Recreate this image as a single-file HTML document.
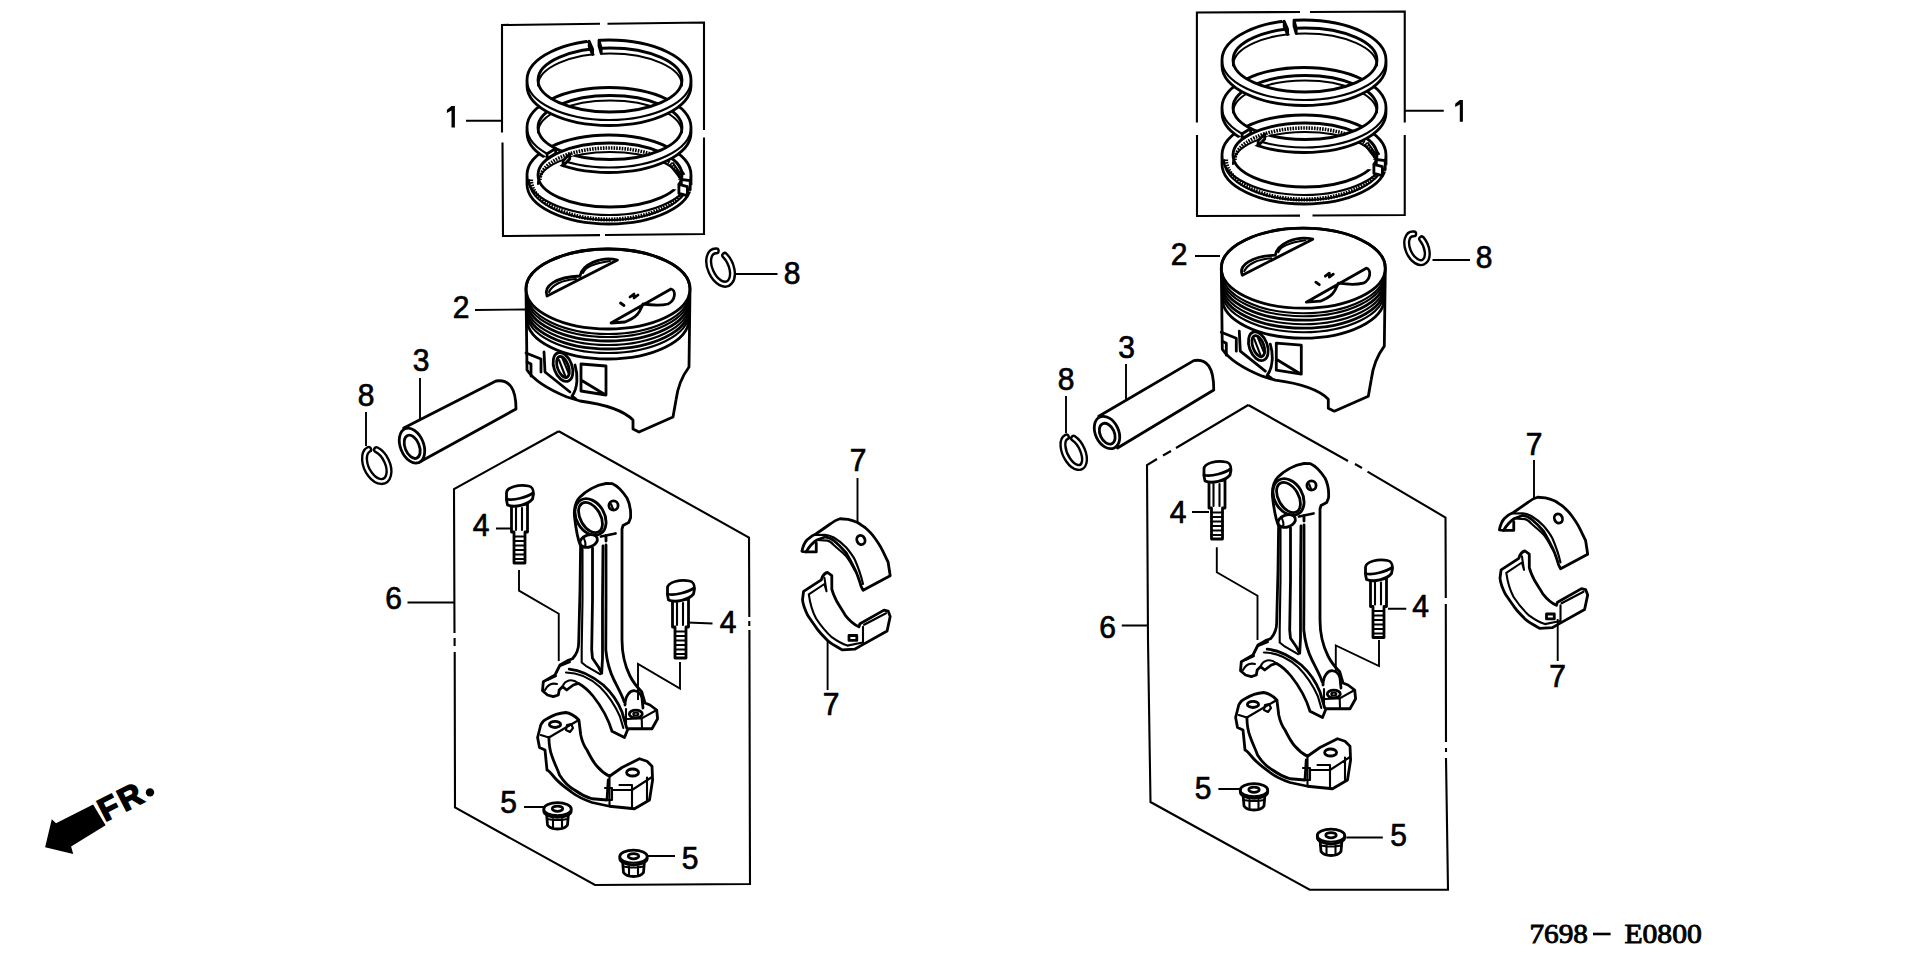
<!DOCTYPE html>
<html><head><meta charset="utf-8"><style>
html,body{margin:0;padding:0;background:#fff;width:1920px;height:958px;overflow:hidden}
svg{display:block}
.k{fill:none;stroke:#000;stroke-width:2.8;stroke-linejoin:round;stroke-linecap:round}
.t{fill:none;stroke:#000;stroke-width:2.1;stroke-linejoin:round;stroke-linecap:round}
.l{fill:none;stroke:#000;stroke-width:1.9}
.b{fill:none;stroke:#000;stroke-width:2.1}
.f{fill:#fff}
.n{font-family:"Liberation Sans",sans-serif;font-size:30px;text-anchor:middle;fill:#000;stroke:#000;stroke-width:0.7}
.c{font-family:"Liberation Serif",serif;font-size:27px;fill:#000;stroke:#000;stroke-width:0.9}
</style></head><body>
<svg width="1920" height="958" viewBox="0 0 1920 958">
<defs>
<mask id="m_r3" maskUnits="userSpaceOnUse" x="0" y="0" width="1920" height="958"><rect x="0" y="0" width="1920" height="958" fill="#fff"/><polygon points="609.0,179.5 852.6,196.2 849.2,205.5 844.3,214.6" fill="#000"/></mask>
<mask id="m_r2" maskUnits="userSpaceOnUse" x="0" y="0" width="1920" height="958"><rect x="0" y="0" width="1920" height="958" fill="#fff"/><polygon points="609.0,130.0 471.4,229.5 446.0,219.9 423.3,208.7" fill="#000"/></mask>
<mask id="m_r1" maskUnits="userSpaceOnUse" x="0" y="0" width="1920" height="958"><rect x="0" y="0" width="1920" height="958" fill="#fff"/><polygon points="609.0,82.8 549.5,-33.7 564.2,-35.2 579.0,-36.4" fill="#000"/></mask>
<g id="rings">
<g mask="url(#m_r3)">
<path d="M 527.0 175.0 A 82 40 0 0 1 691.0 175.0 L 691.0 184.0 A 82 40 0 0 1 527.0 184.0 Z M 538.0 179.5 A 72 27.5 0 0 0 682.0 179.5 A 72 27.5 0 0 0 538.0 179.5 Z" fill="#fff" fill-rule="evenodd" stroke="none"/>
<path d="M 527.0 175.0 A 82 40 0 0 1 691.0 175.0 L 691.0 184.0 A 82 40 0 0 1 527.0 184.0 Z" class="k"/>
<path d="M 527.0 175.0 A 82 40 0 0 0 691.0 175.0" class="t"/>
<ellipse cx="610.0" cy="175.0" rx="72" ry="32" class="k"/>
<path d="M 538.0 184.0 A 72 32 0 0 1 682.0 184.0" class="t"/>
<path d="M 540 180 A 70 32 0 0 1 680 180" fill="none" stroke="#000" stroke-width="3.6" stroke-dasharray="1.6 1.1"/><path d="M 529 180 A 80 40 0 0 0 689 180" class="t"/><path d="M 531 179.5 A 78 40 0 0 0 687 179.5" fill="none" stroke="#000" stroke-width="4.2" stroke-dasharray="1.6 1.1"/>
</g>
<path d="M 690.2 180.6 L 681.3 179.5 L 681.3 188.5 L 690.2 189.6 Z" class="k f"/>
<path d="M 687.4 186.7 L 678.9 184.4 L 678.9 193.4 L 687.4 195.7 Z" class="k f"/>
<g mask="url(#m_r2)">
<path d="M 527.0 127.5 A 82 40 0 0 1 691.0 127.5 L 691.0 132.5 A 82 40 0 0 1 527.0 132.5 Z M 538.0 130.0 A 72 29.5 0 0 0 682.0 130.0 A 72 29.5 0 0 0 538.0 130.0 Z" fill="#fff" fill-rule="evenodd" stroke="none"/>
<path d="M 527.0 127.5 A 82 40 0 0 1 691.0 127.5 L 691.0 132.5 A 82 40 0 0 1 527.0 132.5 Z" class="k"/>
<path d="M 527.0 127.5 A 82 40 0 0 0 691.0 127.5" class="t"/>
<ellipse cx="610.0" cy="127.5" rx="72" ry="32" class="k"/>
<path d="M 538.0 132.5 A 72 32 0 0 1 682.0 132.5" class="t"/>

</g>
<path d="M 563.1 160.7 L 569.7 154.0 L 569.7 159.0 L 563.1 165.7 Z" class="k f"/>
<path d="M 547.1 153.7 L 555.7 148.5 L 555.7 153.5 L 547.1 158.7 Z" class="k f"/>
<g mask="url(#m_r1)">
<path d="M 527.0 80.0 A 82 40 0 0 1 691.0 80.0 L 691.0 85.5 A 82 40 0 0 1 527.0 85.5 Z M 538.0 82.8 A 72 29.25 0 0 0 682.0 82.8 A 72 29.25 0 0 0 538.0 82.8 Z" fill="#fff" fill-rule="evenodd" stroke="none"/>
<path d="M 527.0 80.0 A 82 40 0 0 1 691.0 80.0 L 691.0 85.5 A 82 40 0 0 1 527.0 85.5 Z" class="k"/>
<path d="M 527.0 80.0 A 82 40 0 0 0 691.0 80.0" class="t"/>
<ellipse cx="610.0" cy="80.0" rx="72" ry="32" class="k"/>
<path d="M 538.0 85.5 A 72 32 0 0 1 682.0 85.5" class="t"/>

</g>
<path d="M 589.2 41.2 L 592.6 49.0 L 592.6 54.5 L 589.2 46.7 Z" class="k f"/>
<path d="M 599.0 40.3 L 601.2 48.2 L 601.2 53.7 L 599.0 45.8 Z" class="k f"/>
<path d="M 670 165 L 680 178 M 673 163 L 682 176 M 676 162 L 684 174" class="t"/>
</g>
<g id="piston">
<path d="M 526 289 A 82 40 0 0 1 690 289 L 689 367 C 683 375 678 385 676 400 L 673 417 L 639 432 L 633 429 L 633 420 C 625 412 610 405 580 401 L 567 397 C 550 390 535 382 527 370 Z" class="k f"/>
<ellipse cx="608" cy="289" rx="82" ry="40" class="k"/>
<path d="M 527 294 A 81 40 0 0 0 689 294" class="t"/>
<path d="M 527 297 A 81 40 0 0 0 689 297" class="t"/>
<path d="M 527 301 A 81 40 0 0 0 689 301" class="k"/>
<path d="M 527 305 A 81 40 0 0 0 689 305" class="t"/>
<path d="M 527 309 A 81 40 0 0 0 689 309" class="k"/>
<path d="M 527 313 A 81 40 0 0 0 689 313" class="t"/>
<path d="M 527 319 A 81 40 0 0 0 689 319" class="k"/>
<path d="M 617.5 260 L 547 296 C 543 286 556 277 580 276 C 582 265 600 256 617.5 260 Z" class="k"/>
<path d="M 583 273 C 585 267 596 263 610 261 M 549 292 C 552 285 562 280 576 279" class="t"/>
<path d="M 611 323 L 671 289 C 676 290 676 300 668 304 C 660 306 650 305 643 304 C 640 310 640 316 625 322 Z" class="k"/>
<path d="M 620.5 303 l 3.5 2.5 M 630 297 l 4 -3 l 0 4 l 4 -3" class="k"/>
<path d="M 581 364 L 606 366 L 606 395 L 581 391 Z M 581 380 L 604 394" class="k"/>
<ellipse cx="563" cy="367" rx="9" ry="15" transform="rotate(-20 563 367)" class="k"/>
<ellipse cx="563" cy="367" rx="5.5" ry="11" transform="rotate(-20 563 367)" class="k"/>
<path d="M 559 360 L 566 378 M 562 357 L 569 374" class="t"/>
<path d="M 544 352 L 545 372 L 570 392 M 575 365 C 578 375 578 388 572 396 L 576 399 M 526 353 L 541 359 L 541 372 M 527 362 L 531 364 L 531 376" class="k"/>
</g>
<g id="bolt1">
<path d="M 511.5 504.0 L 511.5 532.0 L 514.0 532.0 L 514.0 563.0 L 525.0 563.0 L 525.0 532.0 L 527.5 532.0 L 527.5 504.0 Z" class="k f"/>
<path d="M 516.0 508.0 L 516.0 530.0" class="t"/>
<path d="M 522.0 508.0 L 522.0 530.0" class="t"/>
<path d="M 514.0 536.5 L 525.0 536.5" class="t"/>
<path d="M 514.0 541.0 L 525.0 541.0" class="t"/>
<path d="M 514.0 545.5 L 525.0 545.5" class="t"/>
<path d="M 514.0 550.0 L 525.0 550.0" class="t"/>
<path d="M 514.0 554.5 L 525.0 554.5" class="t"/>
<path d="M 514.0 559.0 L 525.0 559.0" class="t"/>
<path d="M 506.5 493.0 C 506.5 487.0 519.5 484.0 528.5 486.0 C 533.5 487.0 533.5 491.0 533.5 494.0 L 532.5 499.0 C 527.5 505.0 514.5 508.0 507.5 505.0 L 506.5 500.0 Z" class="k f"/>
<path d="M 506.5 499.0 C 513.5 501.0 527.5 497.0 533.0 493.0" class="k"/>
</g>
<g id="bolt2">
<path d="M 672.5 599.0 L 672.5 627.0 L 675.0 627.0 L 675.0 658.0 L 686.0 658.0 L 686.0 627.0 L 688.5 627.0 L 688.5 599.0 Z" class="k f"/>
<path d="M 677.0 603.0 L 677.0 625.0" class="t"/>
<path d="M 683.0 603.0 L 683.0 625.0" class="t"/>
<path d="M 675.0 631.5 L 686.0 631.5" class="t"/>
<path d="M 675.0 636.0 L 686.0 636.0" class="t"/>
<path d="M 675.0 640.5 L 686.0 640.5" class="t"/>
<path d="M 675.0 645.0 L 686.0 645.0" class="t"/>
<path d="M 675.0 649.5 L 686.0 649.5" class="t"/>
<path d="M 675.0 654.0 L 686.0 654.0" class="t"/>
<path d="M 667.5 588.0 C 667.5 582.0 680.5 579.0 689.5 581.0 C 694.5 582.0 694.5 586.0 694.5 589.0 L 693.5 594.0 C 688.5 600.0 675.5 603.0 668.5 600.0 L 667.5 595.0 Z" class="k f"/>
<path d="M 667.5 594.0 C 674.5 596.0 688.5 592.0 694.0 588.0" class="k"/>
</g>
<g id="conrod">
<path d="M 574.4 516 C 574 508 575 502 580 497 C 585 492 595 485 606 483.5 L 612.5 483.7 C 618 486 623 492 627 498 C 630 504 631 512 630.5 518 L 628.7 522.5 L 623 525.6 L 622 529 L 622 640 C 622 655 626 668 630 676 C 634 684 638 688 641.7 691.7 L 645 703 L 650 705 L 656.7 710 L 657.6 718.75 L 652 728.75 L 628 728.75 L 624.5 737.5 L 612 731.25 C 608 718 601 706 593 696 C 588 690 583 686 578.3 683.3 L 573.3 685 L 566.7 690 L 562.5 686.7 L 559.2 690 L 558.3 695 L 553.3 696.7 L 547.5 695 L 542.5 690.8 L 543.3 681.7 L 555 675 L 560 665 L 567.5 660.6 L 572.5 658.75 C 576 655 578.7 650 578.7 642.5 L 580 590 L 580.6 546 C 578 540 576 530 574.4 516 Z" class="k f"/>
<ellipse cx="590.5" cy="517" rx="14" ry="19.5" transform="rotate(-30 590.5 517)" class="k"/>
<ellipse cx="590.5" cy="517.5" rx="10" ry="16.5" transform="rotate(-30 590.5 517.5)" class="k"/>
<circle cx="613.5" cy="505.5" r="4.6" class="k"/><path d="M 611 504 L 613 509" class="t"/>
<ellipse cx="588.7" cy="541" rx="9" ry="6" transform="rotate(-20 588.7 541)" class="k f"/>
<path d="M 583 537 C 585 540 586 544 585 547" class="t"/>
<path d="M 582.5 546 L 582.5 600 L 581.7 650 L 581.7 662.5 L 585.8 665.8 L 600 674.2" class="t"/>
<path d="M 592.5 548 L 592.5 600 L 591.7 650 L 592.5 658.3 L 598.3 666.7 L 601.7 673.3 L 602.5 658.3 L 602.5 600 L 603 546" class="k"/>
<path d="M 606 545 L 606 600 L 605.8 650 C 607 662 610 672 614 680 C 618 688 622 695 624.2 701.7" class="k"/>
<path d="M 601 536.5 L 615.5 533.5 M 606 535.5 L 606 541" class="k"/>
<path d="M 569.2 669.2 C 580 670 592 676 603.3 685 C 611 692 618 702 622 712 L 626.7 728" class="k"/>
<path d="M 566 672.5 C 580 672.5 590 678 600 687 C 608 695 615 705 620 716.7 L 623.3 728" class="t"/>
<path d="M 560 666 L 570 662 M 547.5 680 L 556 676 M 545 690 C 548 684 553 683 557 684" class="t"/>
<path d="M 562.5 686.7 C 565 680 572 678 578.3 683.3" class="t"/>
<path d="M 625 705 C 625 696 630 690 635 690.8 C 638 691 641 694 642 698 L 643 708" class="k"/>
<ellipse cx="635.8" cy="714" rx="6.5" ry="3.8" class="k"/><ellipse cx="635.8" cy="714" rx="2.5" ry="1.5" class="t"/>
<path d="M 627.5 719 L 641.7 718.3 L 656.7 710 M 641.7 718.3 L 642 728.75 M 626 709 L 626 724" class="t"/>
</g>
<g id="cap">
<path d="M 540.75 725 C 542 722 544 720 547 718.75 C 553 715 559 713 565.75 712.5 C 570 713 574 715 578.9 720 L 580.75 735 C 582 741 584 746 587 750 C 590 756 593 762 597 766.25 C 601 771 605 774 609.5 776.25 L 622 767.5 L 639.5 758.75 L 647 761.25 L 652 766.25 L 652.6 780 L 649.5 800 L 634.5 808.75 L 609.5 806.25 L 592 802.5 C 585 800 578 797 572 792.5 C 566 788 559 783 554.5 777.5 C 550 772 548 770 547 770 L 545 750 L 539.5 747.5 L 537.6 737.5 Z" class="k f"/>
<path d="M 540.75 735 L 548.9 737.5 L 574.5 722.5 L 578.9 720" class="t"/>
<ellipse cx="555" cy="724.4" rx="5.6" ry="3.1" class="k"/>
<path d="M 566 730 L 567 725 L 571 724 L 573 728 L 570 732 Z" class="t"/>
<path d="M 548.9 737.5 C 549 745 550 751 552 756.25 C 555 765 558 770 559.5 775 C 564 782 569 787 574.5 790 C 580 794 586 797 592 798.75 L 607 800 L 608.25 780" class="k"/>
<path d="M 609.5 777.5 L 609.5 806.25 M 612 790 L 632 790 M 619.5 785 L 632 785 L 632 808.75 M 632 790 L 652 777 M 647 777.5 L 647 800" class="t"/>
<path d="M 605 788 L 612 788 L 612 800 L 605 800" class="t"/>
<ellipse cx="632.6" cy="772.5" rx="6" ry="3.5" class="k"/>
</g>
<g id="nut1">
<path d="M 546.5 813.0 L 547.5 825.0 C 549.5 828.0 553.5 829.0 557.5 829.0 C 561.5 829.0 565.5 828.0 567.5 825.0 L 568.5 813.0 Z" class="k f"/>
<path d="M 553.0 819.0 L 553.0 828.5 M 562.0 819.0 L 562.0 828.5 M 547.0 819.0 C 552.5 820.0 562.5 820.0 568.0 819.0" class="t"/>
<path d="M 543.8 809.0 A 13.7 6.3 0 0 1 571.2 809.0 L 571.2 811.0 A 13.7 6.3 0 0 1 543.8 811.0 Z" class="k f"/>
<path d="M 543.8 809.0 A 13.7 6.3 0 0 0 571.2 809.0" class="t"/>
<ellipse cx="557.5" cy="808.7" rx="5.2" ry="2.6" class="k"/>
</g>
<g id="nut2">
<path d="M 622.5 860.5 L 623.5 872.5 C 625.5 875.5 629.5 876.5 633.5 876.5 C 637.5 876.5 641.5 875.5 643.5 872.5 L 644.5 860.5 Z" class="k f"/>
<path d="M 629.0 866.5 L 629.0 876.0 M 638.0 866.5 L 638.0 876.0 M 623.0 866.5 C 628.5 867.5 638.5 867.5 644.0 866.5" class="t"/>
<path d="M 619.8 856.5 A 13.7 6.3 0 0 1 647.2 856.5 L 647.2 858.5 A 13.7 6.3 0 0 1 619.8 858.5 Z" class="k f"/>
<path d="M 619.8 856.5 A 13.7 6.3 0 0 0 647.2 856.5" class="t"/>
<ellipse cx="633.5" cy="856.2" rx="5.2" ry="2.6" class="k"/>
</g>
<g id="bear">
<path d="M 801.9 551.25 C 803 546 805 542 806.9 540 C 810 537 813 535 816.25 533.75 L 830.6 523.75 C 834 521 837 519.5 840 518.75 L 848 519.4 C 851 520 854 521 857.5 522.5 C 860 524 862 525.5 865 527.5 C 869 531 872 534 874.4 537.5 C 877 541 879 544 880.6 546.9 C 884 553 886 558 888.1 562 L 890.2 575.7 L 863.1 590.3 L 861 586.1 C 860 582 858 577 856.8 573.6 C 853 565 850 560 846.25 553 C 842 548 838 544 833.75 540.5 C 830 538 827 537 825 537 L 816.9 540 C 812 543 809 547 806 551.9 Z" class="k f"/>
<path d="M 815 535 L 825 534.7 C 829 535 831 536 833.75 537.5 C 838 540 842 543 846.25 547.5 C 850 552 853 556 855 560 C 858 567 861 575 863 584 M 816.9 540 L 827.5 540.6 C 830 541 832 543 833.75 545 C 838 549 842 552 846.25 556.25 C 850 561 852 565 854.7 570" class="t"/>
<ellipse cx="860.9" cy="540" rx="4" ry="4.7" transform="rotate(-25 860.9 540)" class="k"/>
<path d="M 816.25 543.1 L 816.25 551.9 L 806 551.9" class="k"/>
<path d="M 822.4 576.7 C 824 574 826 572.5 827.6 572.5 L 831.8 575.7 L 831.8 589.2 C 833 594 835 598 837 601.8 C 840 607 843 611 845.3 615.3 C 849 620 853 624 858.9 626.8 L 860 623.7 L 884 610.1 L 888.1 611.1 L 890.2 616.4 L 887.1 631 L 861 645.6 L 854.7 649.2 L 842.2 649.8 C 837 647 833 645 828.6 641.4 C 824 637 820 633 817.1 628.9 C 813 623 810 619 807.7 615.3 C 805 610 803 605 802.5 599.7 L 803.6 591.3 L 821.3 579.8 Z" class="k f"/>
<path d="M 808.8 594.4 C 810 603 812 611 816.1 618.5 C 821 626 826 632 831.8 637.2 C 837 641 842 644 847.4 645.6 L 857.8 643.5 L 863 642.5 L 863 626.8 M 864.1 624.7 L 886 613.2 M 808.8 594.4 L 824.4 584 L 826.5 591.3 M 824.4 577.7 L 826.5 591.3" class="t"/>
<path d="M 849 635.5 L 856.8 635.5 L 856.8 640.4 L 849 640.4 Z" class="k"/>
</g>
</defs>
<use href="#rings"/>
<use href="#piston"/>
<use href="#conrod"/>
<use href="#cap"/>
<use href="#bolt1"/>
<use href="#bolt2"/>
<use href="#nut1"/>
<use href="#nut2"/>
<use href="#bear"/>
<use href="#rings" transform="translate(695 -20)"/>
<use href="#piston" transform="translate(695.3 -20.8)"/>
<use href="#conrod" transform="translate(698 -20)"/>
<use href="#cap" transform="translate(698 -20)"/>
<use href="#bolt1" transform="translate(697.5 -24)"/>
<use href="#bolt2" transform="translate(698 -20.5)"/>
<use href="#nut1" transform="translate(696.5 -19)"/>
<use href="#nut2" transform="translate(697.5 -21)"/>
<use href="#bear" transform="translate(697.5 -21.5)"/>
<path d="M 403.75 428 L 496 381 Q 516 378 516 409 L 418.75 462.5 Z" fill="#fff" stroke="none"/>
<path d="M 403.75 428 L 496 381 Q 516 378 516 409 L 418.75 462.5" class="k"/>
<ellipse cx="412" cy="445.6" rx="11.6" ry="18.2" transform="rotate(-22 412 445.6)" class="k f"/>
<ellipse cx="411.7" cy="446.8" rx="7.1" ry="12.2" transform="rotate(-22 412 445.6)" class="k"/>
<path d="M 1098.75 416.25 L 1193.75 360.6 Q 1214 357 1213.75 390 L 1117.5 448 Z" fill="#fff" stroke="none"/>
<path d="M 1098.75 416.25 L 1193.75 360.6 Q 1214 357 1213.75 390 L 1117.5 448" class="k"/>
<ellipse cx="1107" cy="432.5" rx="11.6" ry="17" transform="rotate(-25 1107 432.5)" class="k f"/>
<ellipse cx="1106.7" cy="433.7" rx="7.1" ry="11" transform="rotate(-25 1107 432.5)" class="k"/>
<path d="M 376.5 449.7 A 17.6 10.6 64 1 1 368.7 449.4" fill="none" stroke="#000" stroke-width="7.2" stroke-linecap="round"/><path d="M 376.5 449.7 A 17.6 10.6 64 1 1 368.7 449.4" fill="none" stroke="#fff" stroke-width="2.4" stroke-linecap="round"/>
<path d="M 724.8 255.4 A 17.6 10.4 66 1 1 716.2 250.9" fill="none" stroke="#000" stroke-width="7.2" stroke-linecap="round"/><path d="M 724.8 255.4 A 17.6 10.4 66 1 1 716.2 250.9" fill="none" stroke="#fff" stroke-width="2.4" stroke-linecap="round"/>
<path d="M 1073.6 438.3 A 16.7 8.8 64 1 1 1066.4 437.0" fill="none" stroke="#000" stroke-width="7.2" stroke-linecap="round"/><path d="M 1073.6 438.3 A 16.7 8.8 64 1 1 1066.4 437.0" fill="none" stroke="#fff" stroke-width="2.4" stroke-linecap="round"/>
<path d="M 1421.7 238.9 A 15.2 9 66 1 1 1413.7 233.9" fill="none" stroke="#000" stroke-width="7.2" stroke-linecap="round"/><path d="M 1421.7 238.9 A 15.2 9 66 1 1 1413.7 233.9" fill="none" stroke="#fff" stroke-width="2.4" stroke-linecap="round"/>
<path d="M 502 132.5 L 502 25 L 600 23.8 M 607.5 23.7 L 704 22.5 L 704 130 M 704 137.5 L 704 234 L 605 235 M 600 235.1 L 503 236 L 502.5 142.5" class="b"/>
<path d="M 454.9 106 L 454.9 127.5 L 451.5 127.5 L 451.5 110.5 L 446.9 113 L 446.9 109.8 L 451.5 106 Z" fill="#000"/>
<path d="M 1462.8999999999999 100 L 1462.8999999999999 121.7 L 1459.8 121.7 L 1459.8 104.5 L 1455.2 107 L 1455.2 103.8 L 1459.8 100 Z" fill="#000"/>
<path d="M 466 120.8 L 501 120.8" class="l"/>
<path d="M 558.75 431.25 L 454 489 L 454.5 633 M 454.6 638 L 454.6 646 M 454.7 652 L 455 807.5 L 595 885 L 750 884 L 749.4 630 M 749.3 626 L 749.3 621 M 749.3 617 L 749 537.5 L 558.75 431.25" class="b"/>
<path d="M 475 310 L 525 309.5 M 420 378 L 420 419 M 366 412 L 366 446 M 736 274 L 777.5 274" class="l"/>
<path d="M 496 528.5 L 512 528.5 M 407.5 602.5 L 454 602.5 M 687.5 622.5 L 712.5 623.5" class="l"/>
<path d="M 519 570 L 519 590.6 L 558.75 613.75 L 558.75 661 M 680 662 L 680 688.5 L 638 664 L 638 700" class="l"/>
<path d="M 524 807 L 544 807 M 647 856 L 675 856" class="l"/>
<path d="M 857.5 478 L 857.5 523 M 827.6 641 L 827.6 690" class="l"/>

<text transform="translate(461 317.5) scale(1 1.02)" class="n">2</text>
<text transform="translate(421 371) scale(1 1.02)" class="n">3</text>
<text transform="translate(366 406) scale(1 1.02)" class="n">8</text>
<text transform="translate(792 284) scale(1 1.02)" class="n">8</text>
<text transform="translate(481 536) scale(1 1.02)" class="n">4</text>
<text transform="translate(728 632.5) scale(1 1.02)" class="n">4</text>
<text transform="translate(393.5 609) scale(1 1.02)" class="n">6</text>
<text transform="translate(508.5 813) scale(1 1.02)" class="n">5</text>
<text transform="translate(690 869) scale(1 1.02)" class="n">5</text>
<text transform="translate(858 471) scale(1 1.02)" class="n">7</text>
<text transform="translate(831 715) scale(1 1.02)" class="n">7</text>
<path d="M 1196.9 122.5 L 1196.9 12.5 L 1300 12 M 1310 12 L 1404.75 11.5 L 1404.75 122.5 M 1404.75 135 L 1404.75 215 L 1312.5 215.5 M 1300 215.6 L 1197 216 L 1197 135" class="b"/>
<path d="M 1405 110.8 L 1443.75 110.8" class="l"/>
<path d="M 1248.3 405 L 1176 448 M 1171 451 L 1163 455.5 M 1157 459 L 1147 465 L 1148 640 L 1150.5 802 L 1309.7 889.7 L 1448 889.7 L 1446 758 M 1446 752 L 1446 748 M 1446 742 L 1445.8 604 M 1445.8 598 L 1445.5 517.5 L 1367.5 471.7 M 1362 468 L 1355 464 M 1348 461 L 1248.3 405" class="b"/>
<path d="M 1195 256 L 1220 256 M 1126 364 L 1126 400 M 1066 396 L 1066 433 M 1432.5 260 L 1470 260" class="l"/>
<path d="M 1192 512 L 1209 512 M 1121.8 625.5 L 1148 625.5 M 1388 608.8 L 1406.3 608.8" class="l"/>
<path d="M 1216.8 547.2 L 1216.8 572.3 L 1257.5 595.8 L 1257.5 640 M 1379 640 L 1379 666 L 1335.8 645.4 L 1335.8 671.5" class="l"/>
<path d="M 1218.4 789 L 1241.9 789 M 1346.3 837.5 L 1382.8 837.5" class="l"/>
<path d="M 1534 460 L 1534 499 M 1557.7 619 L 1557.7 661" class="l"/>

<text transform="translate(1179 265) scale(1 1.02)" class="n">2</text>
<text transform="translate(1126.5 357.5) scale(1 1.02)" class="n">3</text>
<text transform="translate(1066 390) scale(1 1.02)" class="n">8</text>
<text transform="translate(1484 267.5) scale(1 1.02)" class="n">8</text>
<text transform="translate(1178 522.7) scale(1 1.02)" class="n">4</text>
<text transform="translate(1420.5 616.6) scale(1 1.02)" class="n">4</text>
<text transform="translate(1107.5 637.5) scale(1 1.02)" class="n">6</text>
<text transform="translate(1203 799.4) scale(1 1.02)" class="n">5</text>
<text transform="translate(1398.5 846.3) scale(1 1.02)" class="n">5</text>
<text transform="translate(1534 454.8) scale(1 1.02)" class="n">7</text>
<text transform="translate(1557.7 687) scale(1 1.02)" class="n">7</text>
<path d="M 45.1 847.2 L 51.8 819.3 L 56 823.2 L 93.1 804.4 L 105.6 825.2 L 71.1 846.6 L 73.2 854 Z" fill="#000"/>
<circle cx="150" cy="792.4" r="4.2" fill="#000"/>
<text transform="translate(105 822) rotate(-27)" style="font:bold 32px 'Liberation Sans',sans-serif;letter-spacing:2.5px;stroke:#000;stroke-width:1.6">FR</text>
<text x="1529.4" y="943" textLength="58.6" lengthAdjust="spacingAndGlyphs" class="c">7698</text>
<path d="M 1593 934 L 1610.6 934" stroke="#000" stroke-width="2.6"/>
<text x="1624.4" y="943" textLength="77.5" lengthAdjust="spacingAndGlyphs" class="c">E0800</text>
</svg>
</body></html>
